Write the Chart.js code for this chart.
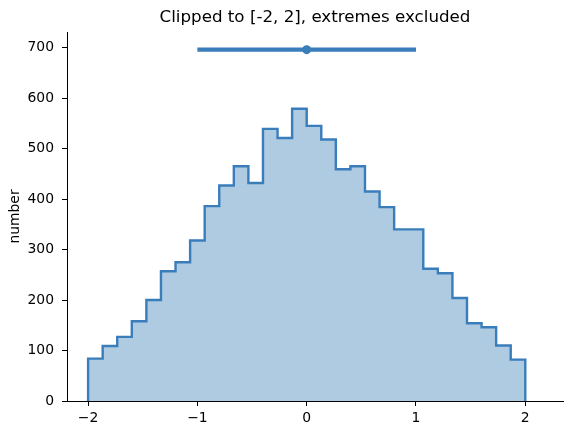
<!DOCTYPE html>
<html>
<head>
<meta charset="utf-8">
<script src="https://cdn.jsdelivr.net/npm/chart.js@4/dist/chart.umd.min.js"></script>
<style>
html,body{margin:0;padding:0;background:#fff;}
canvas{display:block;}
</style>
</head>
<body>
<canvas id="c" width="571" height="435"></canvas>
<script>
// Histogram bin edges (30 bins from -2 to 2) and counts
const binStart = -2;
const binEnd = 2;
const binCount = 30;
const counts = [84, 109, 127, 158, 200, 257, 275, 318, 386, 427, 465, 432, 539, 521, 579,
                545, 518, 459, 465, 415, 384, 340, 340, 262, 253, 204, 154, 146, 110, 82];
// Error bar (point estimate and interval)
const errCenter = [0];
const errLow = [-1];
const errHigh = [1];
const errLevel = [696];
// Ticks
const xTicks = [-2, -1, 0, 1, 2];
const yTicks = [0, 100, 200, 300, 400, 500, 600, 700];
const titleText = 'Clipped to [-2, 2], extremes excluded';
const yLabel = 'number';

const lineColor = '#3a7dbb';
const fillColor = '#afcbe2';

const width = (binEnd - binStart) / binCount;
const stepPts = [{x: binStart, y: 0}];
counts.forEach((c, i) => stepPts.push({x: binStart + i * width, y: c}));
stepPts.push({x: binEnd, y: counts[counts.length - 1]});
stepPts.push({x: binEnd, y: 0});

const fmt = v => v < 0 ? '\u2212' + Math.abs(v) : String(v);
const font = {family: 'DejaVu Sans', size: 13.9};

new Chart(document.getElementById('c'), {
  type: 'line',
  data: {
    datasets: [
      {
        data: stepPts,
        stepped: 'before',
        borderColor: lineColor,
        backgroundColor: fillColor,
        borderWidth: 2.4,
        fill: 'origin',
        pointRadius: 0,
        tension: 0,
        order: 3
      },
      {
        data: [{x: errLow[0], y: errLevel[0]}, {x: errHigh[0], y: errLevel[0]}],
        borderColor: lineColor,
        borderWidth: 4.3,
        borderCapStyle: 'butt',
        pointRadius: 0,
        fill: false,
        order: 2
      },
      {
        data: [{x: errCenter[0], y: errLevel[0]}],
        showLine: false,
        pointRadius: 4.5,
        pointBackgroundColor: lineColor,
        pointBorderColor: lineColor,
        pointBorderWidth: 0,
        order: 1
      }
    ]
  },
  options: {
    responsive: false,
    animation: false,
    devicePixelRatio: 1,
    layout: {padding: {left: 0, right: 8, top: 0, bottom: 0}},
    plugins: {
      legend: {display: false},
      tooltip: {enabled: false},
      title: {
        display: true,
        fullSize: false,
        text: titleText,
        color: '#000',
        font: {family: 'DejaVu Sans', size: 16.7, weight: 'normal'},
        padding: {top: 8, bottom: 3.96}
      }
    },
    scales: {
      x: {
        type: 'linear',
        min: -2.193,
        max: 2.345,
        afterFit: s => { s.height = 34; },
        afterBuildTicks: s => { s.ticks = xTicks.map(v => ({value: v})); },
        grid: {display: true, drawOnChartArea: false, drawTicks: true, tickLength: 5, color: '#000', lineWidth: 1},
        border: {display: true, color: '#000', width: 1},
        ticks: {color: '#000', font: font, padding: 4, maxRotation: 0, callback: v => fmt(v)}
      },
      y: {
        type: 'linear',
        min: 0,
        max: 731,
        afterFit: s => { s.width = 67; },
        afterBuildTicks: s => { s.ticks = yTicks.map(v => ({value: v})); },
        grid: {display: true, drawOnChartArea: false, drawTicks: true, tickLength: 5, color: '#000', lineWidth: 1},
        border: {display: true, color: '#000', width: 1},
        ticks: {color: '#000', font: font, padding: 8, callback: v => fmt(v)},
        title: {display: true, text: yLabel, color: '#000', font: font, padding: {top: 7, bottom: 0}}
      }
    }
  }
});
</script>
</body>
</html>
